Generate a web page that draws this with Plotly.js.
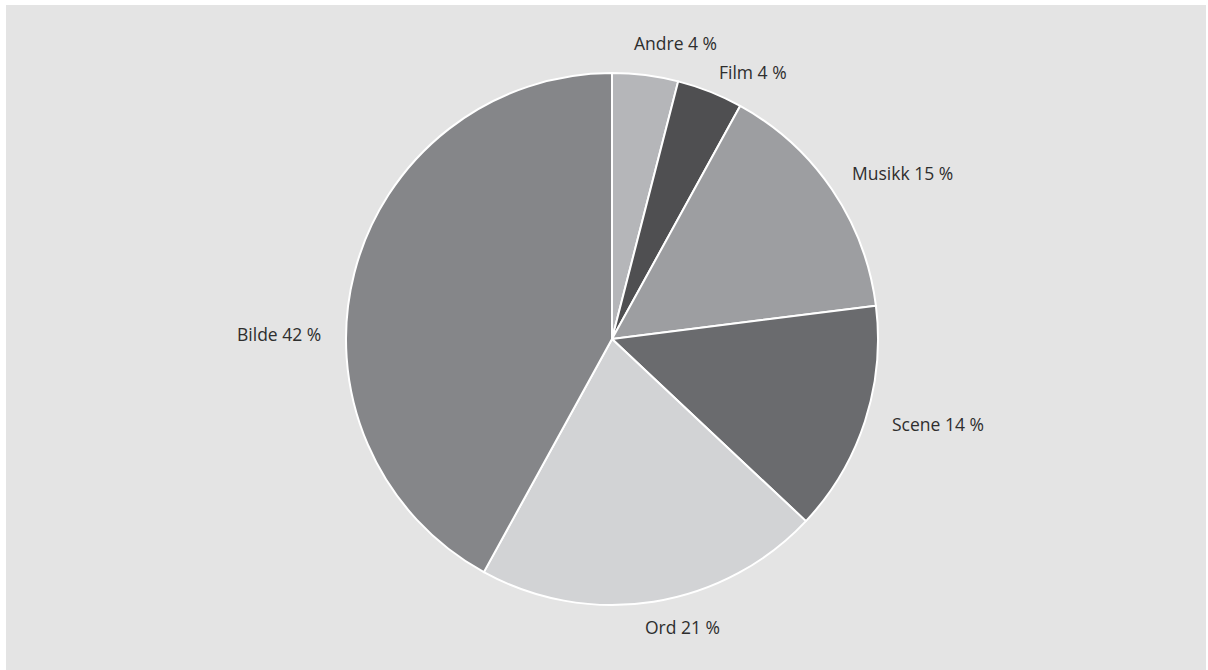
<!DOCTYPE html>
<html>
<head>
<meta charset="utf-8">
<script src="https://cdn.plot.ly/plotly-3.0.1.min.js"></script>
<style>
html,body{margin:0;padding:0;background:#ffffff;}
#chart{position:absolute;left:6px;top:5px;width:1200px;height:665px;}
</style>
</head>
<body>
<div id="chart"></div>
<script>
const categories = ["Andre", "Film", "Musikk", "Scene", "Ord", "Bilde"];
const shares = [4, 4, 15, 14, 21, 42];
const sliceColors = ["#b5b6b9", "#4f4f51", "#9d9ea1", "#6a6b6e", "#d2d3d5", "#858689"];

// label placement (page pixels of label centres), layout only
const labelCentres = [[675, 43], [753, 72], [902, 173], [938, 424], [682, 627], [279, 334]];

const W = 1200, H = 665, OX = 6, OY = 5;

const trace = {
  type: "pie",
  labels: categories,
  values: shares,
  sort: false,
  direction: "clockwise",
  rotation: 0,
  marker: {colors: sliceColors, line: {color: "#ffffff", width: 2}},
  textinfo: "none",
  domain: {x: [0.2833, 0.7267], y: [0.0977, 0.8977]},
  hoverinfo: "none",
  showlegend: false
};

const annotations = categories.map((c, i) => ({
  text: c + " " + shares[i] + " %",
  xref: "paper", yref: "paper",
  x: (labelCentres[i][0] - OX) / W,
  y: 1 - (labelCentres[i][1] - OY) / H,
  xanchor: "center", yanchor: "middle",
  showarrow: false,
  font: {family: "'Open Sans', Lato, sans-serif", size: 17.5, color: "#2e2e2e"}
}));

const layout = {
  width: W,
  height: H,
  margin: {l: 0, r: 0, t: 0, b: 0},
  paper_bgcolor: "#e4e4e4",
  plot_bgcolor: "#e4e4e4",
  showlegend: false,
  annotations: annotations
};

Plotly.newPlot("chart", [trace], layout, {displayModeBar: false, staticPlot: true});
</script>
</body>
</html>
